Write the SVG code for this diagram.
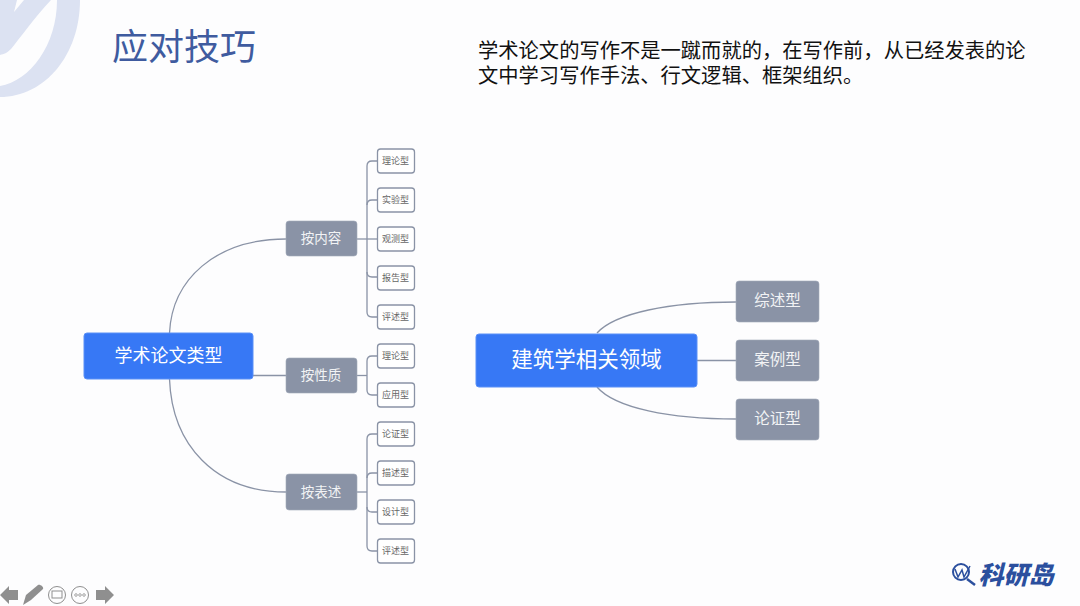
<svg xmlns="http://www.w3.org/2000/svg" width="1080" height="606" viewBox="0 0 1080 606">
<style>
text{font-family:"Noto Sans CJK SC","Liberation Sans",sans-serif;text-anchor:middle}
.conn{fill:none;stroke:#8a93a6;stroke-width:1.3}
.root rect{fill:#3778f5;stroke:#5a90f7;stroke-width:1}
.root text{fill:#fff}
.mid rect{fill:#8a93a6;stroke:#a3abba;stroke-width:.6}
.mid text{fill:#f2f3f5}
.leaf rect{fill:#fff;stroke:#8a93a6;stroke-width:1.3}
.leaf text{fill:#666;font-size:9px}
.ctl{fill:#8f8f8f}
</style>
<rect width="1080" height="606" fill="#fdfdfe"/>
<g id="watermark" fill="#dce2f2">
<path d="M0,86C30,81 57,45 57,0H80C80,55 45,97 0,97Z"/>
<path d="M0,0H17L14,12L24,0H51C35,17 20,38 11,49C7,53 4,54 0,55Z"/>
</g>
<text id="title" x="184" y="60" font-size="36" fill="#3f5b9f">应对技巧</text>
<g id="intro" fill="#111" font-size="20.300">
<text x="478" y="58" style="text-anchor:start">学术论文的写作不是一蹴而就的，在写作前，从已经发表的论</text>
<text x="478" y="83" style="text-anchor:start">文中学习写作手法、行文逻辑、框架组织。</text>
</g>
<g id="connectors" class="conn">
<path d="M169.500,333C172,280 215,239 286,239"/>
<path d="M253,375.500H286"/>
<path d="M169.500,379C172,445 215,492 286,492"/>
<path d="M357,239H367"/>
<path d="M377,161H372Q367,161 367,166V312Q367,317 372,317H377"/>
<path d="M367,205Q367,200 372,200H377"/>
<path d="M367,239H377"/>
<path d="M367,272Q367,277 372,277H377"/>
<path d="M357,375.500H367"/>
<path d="M377,356H372Q367,356 367,361V390Q367,395 372,395H377"/>
<path d="M357,492H367"/>
<path d="M377,434H372Q367,434 367,439V546Q367,551 372,551H377"/>
<path d="M367,478Q367,473 372,473H377"/>
<path d="M367,507Q367,512 372,512H377"/>
<path d="M597,333C615,313 670,302 736,302"/>
<path d="M697,360.500H736"/>
<path d="M597,387C615,408 670,419 736,419"/>
</g>
<g id="root-1" class="root"><rect x="84" y="333" width="169" height="46" rx="3"/><text x="168.500" y="362" font-size="18">学术论文类型</text></g>
<g id="root-2" class="root"><rect x="476" y="334" width="221" height="53" rx="3"/><text x="586.500" y="367" font-size="21.500">建筑学相关领域</text></g>
<g id="m1" class="mid"><rect x="286" y="221" width="71" height="35" rx="3"/><text x="321" y="243" font-size="13.500">按内容</text></g>
<g id="m2" class="mid"><rect x="286" y="358" width="71" height="35" rx="3"/><text x="321" y="380" font-size="13.500">按性质</text></g>
<g id="m3" class="mid"><rect x="286" y="474" width="71" height="36" rx="3"/><text x="321" y="497" font-size="13.500">按表述</text></g>
<g id="r1" class="mid"><rect x="736" y="281" width="83" height="41" rx="3"/><text x="777.500" y="306" font-size="15.500">综述型</text></g>
<g id="r2" class="mid"><rect x="736" y="340" width="83" height="41" rx="3"/><text x="777.500" y="365" font-size="15.500">案例型</text></g>
<g id="r3" class="mid"><rect x="736" y="399" width="83" height="41" rx="3"/><text x="777.500" y="424" font-size="15.500">论证型</text></g>
<g id="l1" class="leaf"><rect x="377.500" y="149" width="37" height="24" rx="3"/><text x="395.500" y="164">理论型</text></g>
<g id="l2" class="leaf"><rect x="377.500" y="188" width="37" height="24" rx="3"/><text x="395.500" y="203">实验型</text></g>
<g id="l3" class="leaf"><rect x="377.500" y="227" width="37" height="24" rx="3"/><text x="395.500" y="242">观测型</text></g>
<g id="l4" class="leaf"><rect x="377.500" y="266" width="37" height="24" rx="3"/><text x="395.500" y="281">报告型</text></g>
<g id="l5" class="leaf"><rect x="377.500" y="305" width="37" height="24" rx="3"/><text x="395.500" y="320">评述型</text></g>
<g id="l6" class="leaf"><rect x="377.500" y="344" width="37" height="24" rx="3"/><text x="395.500" y="359">理论型</text></g>
<g id="l7" class="leaf"><rect x="377.500" y="383" width="37" height="24" rx="3"/><text x="395.500" y="398">应用型</text></g>
<g id="l8" class="leaf"><rect x="377.500" y="422" width="37" height="24" rx="3"/><text x="395.500" y="437">论证型</text></g>
<g id="l9" class="leaf"><rect x="377.500" y="461" width="37" height="24" rx="3"/><text x="395.500" y="476">描述型</text></g>
<g id="l10" class="leaf"><rect x="377.500" y="500" width="37" height="24" rx="3"/><text x="395.500" y="515">设计型</text></g>
<g id="l11" class="leaf"><rect x="377.500" y="539" width="37" height="24" rx="3"/><text x="395.500" y="554">评述型</text></g>
<g id="controls">
<path class="ctl" d="M0,595L9,586V590H18V600H9V604Z"/>
<path class="ctl" d="M23,605L26,595L38,585C40,584 44,587 43,589L31,600Z"/>
<circle cx="57" cy="595" r="8.500" fill="none" stroke="#8f8f8f" stroke-width="1"/>
<rect x="52" y="591" width="10" height="7" fill="none" stroke="#8f8f8f" stroke-width="1"/>
<circle cx="80" cy="595" r="8.500" fill="none" stroke="#8f8f8f" stroke-width="1"/>
<g fill="none" stroke="#8f8f8f" stroke-width=".8"><circle cx="76" cy="595" r="1.300"/><circle cx="80" cy="595" r="1.300"/><circle cx="84" cy="595" r="1.300"/></g>
<path class="ctl" d="M114,595L105,586V590H96V600H105V604Z"/>
</g>
<g id="logo">
<circle cx="961" cy="572" r="8" fill="none" stroke="#2b4f9e" stroke-width="2"/>
<path d="M967,579L975,585" stroke="#2b4f9e" stroke-width="2.500"/>
<path d="M955,569L958,577L962,570L964,577L970,566" fill="none" stroke="#2b4f9e" stroke-width="1.500"/>
<text x="1016" y="584" font-size="25" font-weight="900" font-style="italic" fill="#2b4f9e">科研岛</text>
</g>
</svg>
